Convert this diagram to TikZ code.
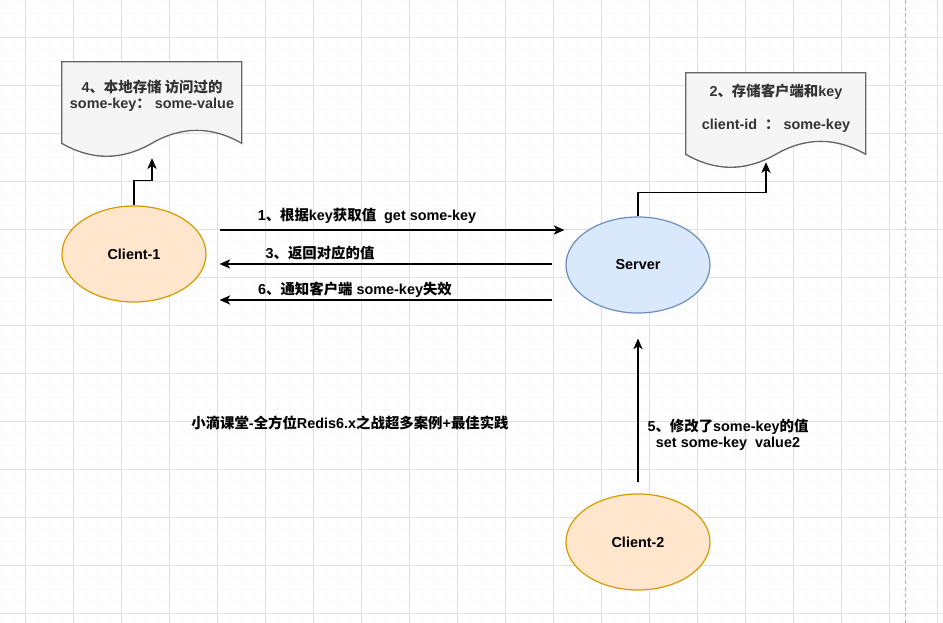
\documentclass[tikz,border=0pt]{standalone}
\usepackage{fontspec}
\setmainfont{Liberation Sans}
\newfontfamily\cjk{Noto Sans CJK SC}
\usetikzlibrary{arrows.meta, positioning, shapes.geometric, calc, backgrounds}
\definecolor{clientfill}{HTML}{FFE6CC}
\definecolor{clientline}{HTML}{D79B00}
\definecolor{serverfill}{HTML}{DAE8FC}
\definecolor{serverline}{HTML}{6C8EBF}
\definecolor{docfill}{HTML}{F5F5F5}
\definecolor{docline}{HTML}{666666}
\definecolor{doctxt}{HTML}{333333}
\definecolor{gridmajor}{HTML}{E0E0E0}
\definecolor{gridminor}{HTML}{F8F8F8}
\newcommand\zh[1]{{\cjk #1}}
\newcommand\docoutline[1]{%
  \draw[docline, fill=docfill, line width=1pt, shift={(#1.north west)}]
    (0,0) -- (180,0) -- (180,81.6)
    .. controls (150,64.32) and (120,64.32) .. (90,81.6)
    .. controls (60,98.88) and (30,98.88) .. (0,81.6) -- cycle;}

\begin{document}
\begin{tikzpicture}[x=0.75pt, y=-0.75pt,
  every node/.style={font=\fontsize{10.8}{12}\selectfont\bfseries},
  client/.style={ellipse, draw=clientline, fill=clientfill, line width=0.9pt,
    minimum width=108pt, minimum height=72pt},
  server/.style={client, draw=serverline, fill=serverfill},
  docbox/.style={rectangle, minimum width=135pt, minimum height=72pt, inner sep=0pt},
  doctext/.style={align=center, text=doctxt},
  note/.style={align=center, inner sep=1pt},
  flow/.style={line width=0.9pt, -{Stealth[length=8pt, width=7pt, inset=2.2pt]}}]

  \useasboundingbox (0,0) rectangle (943,623);

  \begin{scope}[on background layer]
    \fill[white] (0,0) rectangle (943,623);
    \foreach \x in {1,13,...,943}
      \draw[gridminor, line width=0.5pt] (\x,0) -- (\x,623);
    \foreach \y in {1,13,...,623}
      \draw[gridminor, line width=0.5pt] (0,\y) -- (943,\y);
    \foreach \x in {25,73,...,943}
      \draw[gridmajor, line width=0.6pt] (\x,0) -- (\x,623);
    \foreach \y in {37,85,...,623}
      \draw[gridmajor, line width=0.6pt] (0,\y) -- (943,\y);
    \draw[gray!60, line width=0.6pt, dash pattern=on 3pt off 2pt] (905,0) -- (905,623);
  \end{scope}

  \node[client] (c1) at (134,254) {Client-1};
  \node[server] (srv) at (638,265) {Server};
  \node[client] (c2) at (638,542) {Client-2};

  \node[docbox] (doc1) at (152,110) {};
  \node[docbox] (doc2) at (776,121) {};

  \begin{scope}[on background layer]
    \docoutline{doc1}
    \docoutline{doc2}
  \end{scope}

  \node[doctext] (doc1txt) at (152,96)
    {4\zh{、本地存储 访问过的}\\some-key\zh{：} some-value};
  \node[doctext] (doc2txt) at (776,108.5)
    {2\zh{、存储客户端和}key\\[12.75pt]client-id \ \zh{：} some-key};

  \draw[flow] (c1.north) -- ++(0,-25) -| (doc1.south);
  \draw[flow] (srv.north) -- ++(0,-24) -| ($(doc2.south)+(-10,-7)$);

  \draw[flow] ($(c1.east)+(13,-24)$) -- ($(srv.west)+(-1,-35)$);
  \draw[flow] ($(srv.west)+(-13,-1)$) -- ($(c1.east)+(13,10)$);
  \draw[flow] ($(srv.west)+(-13,35)$) -- ($(c1.east)+(13,46)$);
  \draw[flow] ($(c2.north)+(0,-11)$) -- ($(srv.south)+(0,25)$);

  \node[note] (lbl1) at (367,216) {1\zh{、根据}key\zh{获取值}\ \ get some-key};
  \node[note] (lbl3) at (320,253) {3\zh{、返回对应的值}};
  \node[note] (lbl6) at (355,290) {6\zh{、通知客户端} some-key\zh{失效}};
  \node[note] (lbl5) at (728,435) {5\zh{、修改了}some-key\zh{的值}\\set some-key\ \ value2};
  \node[note] (title) at (350,423)
    {\zh{小滴课堂}-\zh{全方位}Redis6.x\zh{之战超多案例}+\zh{最佳实践}};
\end{tikzpicture}
\end{document}
